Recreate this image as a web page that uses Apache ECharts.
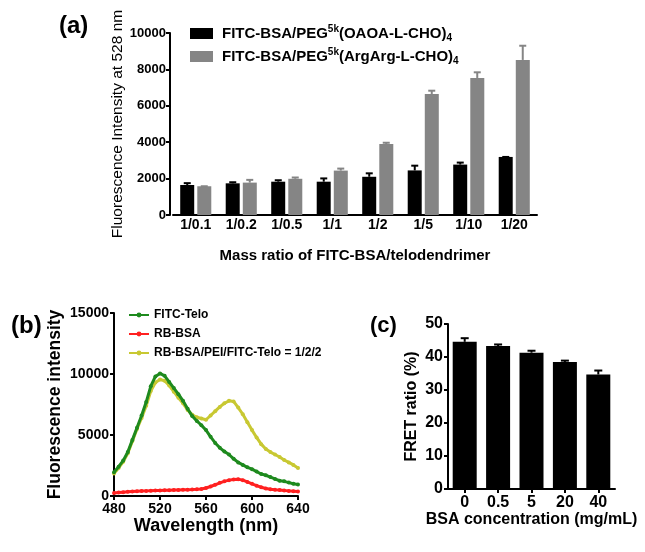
<!DOCTYPE html>
<html>
<head>
<meta charset="utf-8">
<script src="https://cdn.jsdelivr.net/npm/echarts@6/dist/echarts.min.js"></script>
<style>
  html, body { margin: 0; padding: 0; background: #fff; }
  #chart { width: 645px; height: 552px; }
</style>
</head>
<body>
<div id="chart"></div>
<script>
// (a) FITC-BSA vs telodendrimer mass ratio
const ratioLabels = ['1/0.1', '1/0.2', '1/0.5', '1/1', '1/2', '1/5', '1/10', '1/20'];
const oaoaValues = [1650, 1740, 1830, 1830, 2100, 2450, 2770, 3190];
const oaoaErrors = [100, 60, 80, 180, 190, 260, 110, 0];
const argValues = [1580, 1780, 1990, 2440, 3900, 6650, 7530, 8520];
const argErrors = [0, 150, 70, 110, 70, 180, 310, 780];

// (b) emission spectra
const wavelengths = [480, 484, 488, 492, 496, 500, 504, 508, 512, 516, 520, 524, 528, 532, 536, 540,
  544, 548, 552, 556, 560, 564, 568, 572, 576, 580, 584, 588, 592, 596, 600, 604, 608, 612, 616,
  620, 624, 628, 632, 636, 640];
const fitcTelo = [1950, 2400, 2900, 3600, 4600, 5600, 6600, 7700, 9000, 9800, 10050, 9850, 9350, 8850,
  8350, 7800, 7150, 6550, 6150, 5800, 5400, 4850, 4350, 3950, 3650, 3400, 3050, 2750, 2550, 2350,
  2200, 2000, 1800, 1700, 1550, 1400, 1250, 1200, 1100, 1000, 950];
const rbBsa = [250, 280, 310, 340, 360, 380, 400, 420, 440, 450, 460, 470, 480, 490, 500, 510, 520,
  530, 550, 580, 660, 780, 920, 1080, 1200, 1300, 1360, 1380, 1300, 1150, 1000, 850, 720, 620, 560,
  520, 490, 450, 420, 390, 360];
const mixture = [1850, 2300, 2800, 3500, 4500, 5500, 6400, 7400, 8600, 9300, 9550, 9450, 9050, 8550,
  8050, 7600, 7050, 6650, 6450, 6350, 6250, 6600, 6950, 7300, 7600, 7800, 7750, 7250, 6700, 6050,
  5400, 4800, 4250, 3850, 3600, 3400, 3200, 2950, 2750, 2550, 2300];

// (c) FRET ratio vs BSA concentration
const bsaLabels = ['0', '0.5', '5', '20', '40'];
const fretValues = [44.6, 43.3, 41.3, 38.5, 34.7];
const fretErrors = [1.1, 0.5, 0.6, 0.4, 1.2];

const FONT = 'Liberation Sans, Arial, sans-serif';
const OAOA = 'FITC-BSA/PEG5k(OAOA-L-CHO)4';
const ARG = 'FITC-BSA/PEG5k(ArgArg-L-CHO)4';

const axisLine = { lineStyle: { color: '#000', width: 2 } };
const axisTick = { length: 4, lineStyle: { color: '#000', width: 2 } };
const plain = (v) => String(v);
const tickFont = (size) => ({ color: '#000', fontFamily: FONT, fontWeight: 'bold', fontSize: size });

// one-sided (upward) error bar with a cap
const errorBar = (offset, color, cap) => (params, api) => {
  const base = api.coord([api.value(0), api.value(1)]);
  const top = api.coord([api.value(0), api.value(1) + api.value(2)]);
  const cx = base[0] + offset;
  return {
    type: 'group',
    children: [
      { type: 'line', shape: { x1: cx, y1: base[1], x2: cx, y2: top[1] }, style: { stroke: color, lineWidth: 2 } },
      { type: 'line', shape: { x1: cx - cap, y1: top[1], x2: cx + cap, y2: top[1] }, style: { stroke: color, lineWidth: 2 } }
    ]
  };
};

const chart = echarts.init(document.getElementById('chart'));

chart.setOption({
  animation: false,
  textStyle: { fontFamily: FONT },
  title: [
    { text: '(a)', left: 54, top: 9, textStyle: { fontSize: 24, fontWeight: 'bold', color: '#000', fontFamily: FONT } },
    { text: '(b)', left: 6, top: 309, textStyle: { fontSize: 24, fontWeight: 'bold', color: '#000', fontFamily: FONT } },
    { text: '(c)', left: 365, top: 310, textStyle: { fontSize: 22, fontWeight: 'bold', color: '#000', fontFamily: FONT } }
  ],
  legend: [
    {
      data: [OAOA, ARG],
      orient: 'vertical',
      left: 185,
      top: 19,
      itemWidth: 23,
      itemHeight: 11,
      itemGap: 4,
      icon: 'rect',
      formatter: (name) => name === OAOA
        ? '{n|FITC-BSA/PEG}{s|5k}{n|(OAOA-L-CHO)}{d|4}'
        : '{n|FITC-BSA/PEG}{s|5k}{n|(ArgArg-L-CHO)}{d|4}',
      textStyle: {
        padding: [0, 0, 0, 4],
        rich: {
          n: { fontSize: 15, fontWeight: 'bold', color: '#000', fontFamily: FONT, lineHeight: 19 },
          s: { fontSize: 10, fontWeight: 'bold', color: '#000', fontFamily: FONT, lineHeight: 19, verticalAlign: 'top' },
          d: { fontSize: 10, fontWeight: 'bold', color: '#000', fontFamily: FONT, lineHeight: 19, verticalAlign: 'bottom' }
        }
      }
    },
    {
      data: ['FITC-Telo', 'RB-BSA', 'RB-BSA/PEI/FITC-Telo = 1/2/2'],
      orient: 'vertical',
      left: 123,
      top: 304,
      itemWidth: 20,
      itemHeight: 6,
      itemGap: 7,
      textStyle: { fontSize: 12, fontWeight: 'bold', color: '#000', fontFamily: FONT }
    }
  ],
  grid: [
    { left: 173, right: 108, top: 33, bottom: 337 },
    { left: 114, right: 347, top: 313, bottom: 56 },
    { left: 448, right: 30, top: 324, bottom: 63 }
  ],
  xAxis: [
    {
      gridIndex: 0,
      type: 'category',
      data: ratioLabels,
      axisLine: axisLine,
      axisTick: { show: false },
      axisLabel: Object.assign({ margin: 3 }, tickFont(14)),
      name: 'Mass ratio of FITC-BSA/telodendrimer',
      nameLocation: 'middle',
      nameGap: 33,
      nameTextStyle: { fontSize: 15, fontWeight: 'bold', color: '#000', fontFamily: FONT }
    },
    {
      gridIndex: 1,
      type: 'value',
      min: 480,
      max: 640,
      interval: 40,
      axisLine: axisLine,
      axisTick: axisTick,
      axisLabel: Object.assign({ margin: 6, formatter: plain }, tickFont(14)),
      splitLine: { show: false },
      name: 'Wavelength (nm)',
      nameLocation: 'middle',
      nameGap: 17,
      nameTextStyle: { fontSize: 18, fontWeight: 'bold', color: '#000', fontFamily: FONT, verticalAlign: 'top' }
    },
    {
      gridIndex: 2,
      type: 'category',
      data: bsaLabels,
      axisLine: axisLine,
      axisTick: { show: true, alignWithLabel: true, length: 4, lineStyle: { color: '#000', width: 2 } },
      axisLabel: Object.assign({ margin: 6 }, tickFont(16)),
      name: 'BSA concentration (mg/mL)',
      nameLocation: 'middle',
      nameGap: 23,
      nameTextStyle: { fontSize: 16, fontWeight: 'bold', color: '#000', fontFamily: FONT, verticalAlign: 'top' }
    }
  ],
  yAxis: [
    {
      gridIndex: 0,
      type: 'value',
      min: 0,
      max: 10000,
      interval: 2000,
      offset: 3,
      axisLine: Object.assign({ show: true }, axisLine),
      axisTick: Object.assign({ show: true }, axisTick),
      axisLabel: Object.assign({ margin: 4, formatter: plain }, tickFont(13)),
      splitLine: { show: false },
      name: 'Fluorescence Intensity at 528 nm',
      nameLocation: 'middle',
      nameGap: 44,
      nameMoveOverlap: false,
      nameTextStyle: { fontSize: 15.5, color: '#000', fontFamily: FONT }
    },
    {
      gridIndex: 1,
      type: 'value',
      min: 0,
      max: 15000,
      interval: 5000,
      axisLine: Object.assign({ show: true }, axisLine),
      axisTick: Object.assign({ show: true }, axisTick),
      axisLabel: Object.assign({ margin: 5, formatter: plain }, tickFont(14)),
      splitLine: { show: false },
      name: 'Fluorescence intensity',
      nameLocation: 'middle',
      nameGap: 50,
      nameTextStyle: { fontSize: 17.5, fontWeight: 'bold', color: '#000', fontFamily: FONT }
    },
    {
      gridIndex: 2,
      type: 'value',
      min: 0,
      max: 50,
      interval: 10,
      axisLine: Object.assign({ show: true }, axisLine),
      axisTick: Object.assign({ show: true }, axisTick),
      axisLabel: Object.assign({ margin: 5 }, tickFont(16)),
      splitLine: { show: false },
      name: 'FRET ratio (%)',
      nameLocation: 'middle',
      nameGap: 28,
      nameTextStyle: { fontSize: 16, fontWeight: 'bold', color: '#000', fontFamily: FONT }
    }
  ],
  series: [
    {
      name: OAOA,
      type: 'bar',
      xAxisIndex: 0,
      yAxisIndex: 0,
      data: oaoaValues,
      barWidth: 14,
      barGap: '22%',
      itemStyle: { color: '#000' }
    },
    {
      name: ARG,
      type: 'bar',
      xAxisIndex: 0,
      yAxisIndex: 0,
      data: argValues,
      barWidth: 14,
      barGap: '22%',
      itemStyle: { color: '#858585' }
    },
    {
      type: 'custom',
      xAxisIndex: 0,
      yAxisIndex: 0,
      renderItem: errorBar(-8.5, '#000', 3.5),
      data: oaoaValues.map((v, i) => [i, v, oaoaErrors[i]]),
      z: 3
    },
    {
      type: 'custom',
      xAxisIndex: 0,
      yAxisIndex: 0,
      renderItem: errorBar(8.5, '#858585', 3.5),
      data: argValues.map((v, i) => [i, v, argErrors[i]]),
      z: 3
    },
    {
      name: 'FITC-Telo',
      type: 'line',
      xAxisIndex: 1,
      yAxisIndex: 1,
      data: wavelengths.map((w, i) => [w, fitcTelo[i]]),
      symbol: 'circle',
      symbolSize: 4,
      showAllSymbol: true,
      lineStyle: { color: '#1e8a1e', width: 3 },
      itemStyle: { color: '#1e8a1e' },
      z: 5
    },
    {
      name: 'RB-BSA',
      type: 'line',
      xAxisIndex: 1,
      yAxisIndex: 1,
      data: wavelengths.map((w, i) => [w, rbBsa[i]]),
      symbol: 'circle',
      symbolSize: 4,
      showAllSymbol: true,
      lineStyle: { color: '#ff2020', width: 3 },
      itemStyle: { color: '#ff2020' },
      z: 3
    },
    {
      name: 'RB-BSA/PEI/FITC-Telo = 1/2/2',
      type: 'line',
      xAxisIndex: 1,
      yAxisIndex: 1,
      data: wavelengths.map((w, i) => [w, mixture[i]]),
      symbol: 'circle',
      symbolSize: 4,
      showAllSymbol: true,
      lineStyle: { color: '#c8c832', width: 3 },
      itemStyle: { color: '#c8c832' },
      z: 4
    },
    {
      type: 'bar',
      xAxisIndex: 2,
      yAxisIndex: 2,
      data: fretValues,
      barWidth: 24,
      itemStyle: { color: '#000' }
    },
    {
      type: 'custom',
      xAxisIndex: 2,
      yAxisIndex: 2,
      renderItem: errorBar(0, '#000', 4),
      data: fretValues.map((v, i) => [i, v, fretErrors[i]]),
      z: 3
    }
  ]
});
</script>
</body>
</html>
